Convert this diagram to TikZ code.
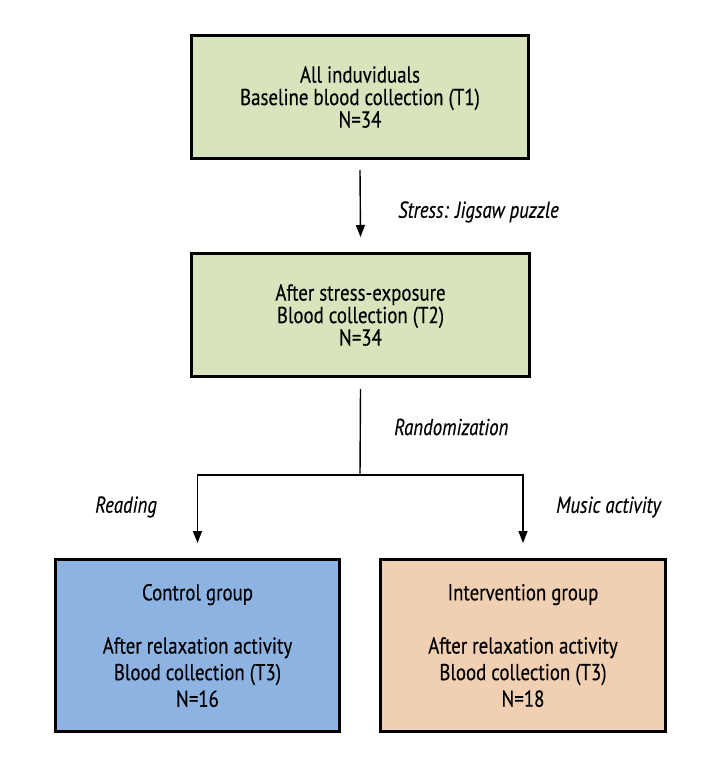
\documentclass[tikz,border=0pt]{standalone}
\usepackage{fontspec}
\setmainfont{PT Sans}[FakeStretch=0.82,FakeBold=0.3]
\usetikzlibrary{arrows.meta}
\definecolor{boxgreen}{HTML}{D8E4BC}
\definecolor{boxblue}{HTML}{8DB3E2}
\definecolor{boxpeach}{HTML}{F1CFB2}
\tikzset{
  flowbox/.style={draw=black, line width=3pt, rectangle, align=center, inner sep=0pt,
    font=\fontsize{23}{22.5}\selectfont},
  groupbox/.style={flowbox, font=\fontsize{23}{26.6}\selectfont},
  arr/.style={line width=1.4pt, -{Stealth[length=12pt,width=9pt,inset=0pt]}},
  plain/.style={line width=1.4pt},
  lbl/.style={anchor=west, inner sep=0pt, font=\fontsize{23}{22.5}\selectfont\itshape}
}
\begin{document}
\begin{tikzpicture}[x=1pt,y=-1pt]
\useasboundingbox[fill=white] (0,0) rectangle (720,768);
\node[flowbox, fill=boxgreen, minimum width=337pt, minimum height=123pt] (b1) at (360,97)
  {All induviduals\\Baseline blood collection (T1)\\N=34};
\node[flowbox, fill=boxgreen, minimum width=338pt, minimum height=123pt] (b2) at (360.5,315)
  {After stress-exposure\\Blood collection (T2)\\N=34};
\node[groupbox, fill=boxblue, minimum width=284pt, minimum height=172pt] (ctrl) at (197.5,645.5)
  {Control group\\[26.6pt]After relaxation activity\\Blood collection (T3)\\N=16};
\node[groupbox, fill=boxpeach, minimum width=285pt, minimum height=172pt] (intv) at (523,645.5)
  {Intervention group\\[26.6pt]After relaxation activity\\Blood collection (T3)\\N=18};
\coordinate (split) at (360,475);
\draw[arr] ([yshift=-10pt]b1.south) -- ([yshift=15pt]b2.north);
\draw[plain] ([yshift=-11pt]b2.south) -- (split);
\draw[arr] (split) -| ([yshift=15pt]ctrl.north);
\draw[arr] (split) -| ([yshift=15pt]intv.north);
\node[lbl] (l1) at (398,212) {Stress: Jigsaw puzzle};
\node[lbl] (l2) at (394,427) {Randomization};
\node[lbl] (l3) at (95,507) {Reading};
\node[lbl] (l4) at (556,507) {Music activity};
\end{tikzpicture}
\end{document}
